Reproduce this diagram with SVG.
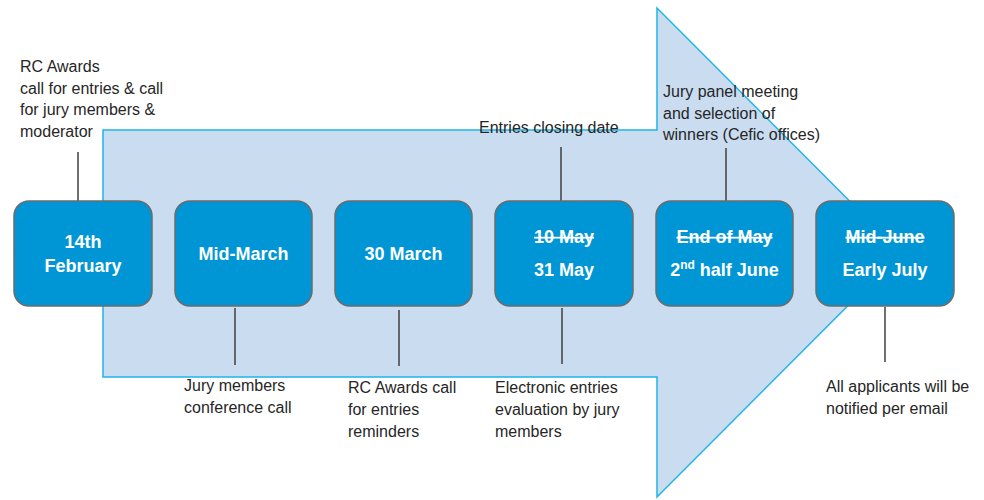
<svg xmlns="http://www.w3.org/2000/svg" width="984" height="500" viewBox="0 0 984 500">
<style>
.lbl{font-family:"Liberation Sans",Arial,sans-serif;font-size:16px;fill:#262626}
.box{fill:#0096D6;stroke:#6b6b6b;stroke-width:1.5}
.bt{font-family:"Liberation Sans",Arial,sans-serif;font-size:18px;font-weight:bold;fill:#ffffff;text-anchor:middle}
.strike{text-decoration:line-through}
.conn line{stroke:#404040;stroke-width:1.5}
</style>
<rect width="984" height="500" fill="#ffffff"/>
<g id="arrow">
<polygon points="103,130 657,130 657,8 901,252.5 657,497 657,377 103,377" fill="#C9DCF0" stroke="#1EB4E8" stroke-width="1.5"/>
</g>
<g class="conn" id="connectors">
<line x1="78" y1="152" x2="78" y2="201"/>
<line x1="235" y1="308" x2="235" y2="365"/>
<line x1="399" y1="310" x2="399" y2="366"/>
<line x1="561" y1="147" x2="561" y2="201"/>
<line x1="562" y1="308" x2="562" y2="364"/>
<line x1="726" y1="148" x2="726" y2="202"/>
<line x1="885" y1="307" x2="885" y2="362"/>
</g>
<g id="node1">
<rect class="box" x="14" y="201" width="138" height="105" rx="15"/>
<text class="bt" x="83" y="248">14th</text>
<text class="bt" x="83" y="272">February</text>
<text class="lbl" x="20" y="72">RC Awards</text>
<text class="lbl" x="20" y="94">call for entries &amp; call</text>
<text class="lbl" x="20" y="115">for jury members &amp;</text>
<text class="lbl" x="20" y="137">moderator</text>
</g>
<g id="node2">
<rect class="box" x="175" y="201" width="137" height="105" rx="15"/>
<text class="bt" x="243.5" y="260">Mid-March</text>
<text class="lbl" x="184" y="391">Jury members</text>
<text class="lbl" x="184" y="413">conference call</text>
</g>
<g id="node3">
<rect class="box" x="335" y="201" width="137" height="105" rx="15"/>
<text class="bt" x="403.5" y="260">30 March</text>
<text class="lbl" x="348" y="393">RC Awards call</text>
<text class="lbl" x="348" y="415">for entries</text>
<text class="lbl" x="348" y="437">reminders</text>
</g>
<g id="node4">
<rect class="box" x="495" y="201" width="138" height="105" rx="15"/>
<text class="bt strike" x="564" y="243">10 May</text>
<text class="bt" x="564" y="276">31 May</text>
<text class="lbl" x="479" y="133">Entries closing date</text>
<text class="lbl" x="495" y="393">Electronic entries</text>
<text class="lbl" x="495" y="415">evaluation by jury</text>
<text class="lbl" x="495" y="437">members</text>
</g>
<g id="node5">
<rect class="box" x="656" y="201" width="137" height="105" rx="15"/>
<text class="bt strike" x="724.5" y="243">End of May</text>
<text class="bt" x="724.5" y="276">2<tspan font-size="12" dy="-7">nd</tspan><tspan dy="7"> half June</tspan></text>
<text class="lbl" x="663" y="97">Jury panel meeting</text>
<text class="lbl" x="663" y="119">and selection of</text>
<text class="lbl" x="663" y="140">winners (Cefic offices)</text>
</g>
<g id="node6">
<rect class="box" x="816" y="201" width="138" height="105" rx="15"/>
<text class="bt strike" x="885" y="243">Mid-June</text>
<text class="bt" x="885" y="276">Early July</text>
<text class="lbl" x="826" y="392">All applicants will be</text>
<text class="lbl" x="826" y="414">notified per email</text>
</g>
</svg>
